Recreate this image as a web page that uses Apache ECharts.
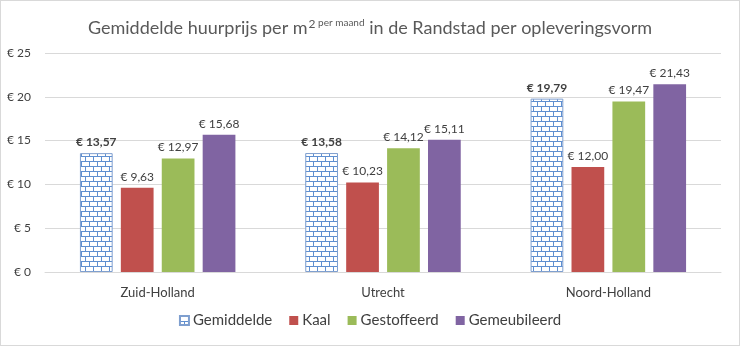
<!DOCTYPE html>
<html>
<head>
<meta charset="utf-8">
<script src="https://cdn.jsdelivr.net/npm/echarts@6/dist/echarts.min.js"></script>
<style>
  html, body { margin: 0; padding: 0; background: #fff; }
  #chart { width: 738px; height: 344px; border: 1px solid #d9d9d9; }
</style>
</head>
<body>
<div id="chart"></div>
<script>
// Regions and average rent per m² per month (euro) by delivery type
const regions = ['Zuid-Holland', 'Utrecht', 'Noord-Holland'];
const seriesNames = ['Gemiddelde', 'Kaal', 'Gestoffeerd', 'Gemeubileerd'];
const gemiddelde = [13.57, 13.58, 19.79];
const kaal = [9.63, 10.23, 12.00];
const gestoffeerd = [12.97, 14.12, 19.47];
const gemeubileerd = [15.68, 15.11, 21.43];
const yTicks = [0, 5, 10, 15, 20, 25];

const FONT = 'Lato, "Open Sans", sans-serif';
const TEXT = '#404040';

// Brick fill for the "Gemiddelde" bars
function brickTile() {
  const c = document.createElement('canvas');
  c.width = 8; c.height = 10;
  const g = c.getContext('2d');
  g.fillStyle = '#ffffff';
  g.fillRect(0, 0, 8, 10);
  g.fillStyle = '#5f8fd0';
  g.fillRect(0, 0, 8, 1);
  g.fillRect(0, 5, 8, 1);
  g.fillRect(0, 0, 1, 5);
  g.fillRect(4, 5, 1, 5);
  return c;
}
const brick = { image: brickTile(), repeat: 'repeat' };

const euro = v => '€ ' + v.toFixed(2).replace('.', ',');

function barSeries(name, data, color, bold, border) {
  return {
    name: name,
    type: 'bar',
    data: data,
    barGap: '25%',
    barCategoryGap: '31%',
    itemStyle: {
      color: color,
      borderColor: border,
      borderWidth: border ? 1 : 0
    },
    label: {
      show: true,
      position: 'top',
      distance: 5,
      formatter: p => euro(p.value),
      color: TEXT,
      fontFamily: FONT,
      fontSize: 12,
      fontWeight: bold ? 'bold' : 'normal'
    }
  };
}

const chart = echarts.init(document.getElementById('chart'));
chart.setOption({
  animation: false,
  title: {
    text: '{m|Gemiddelde huurprijs per m}{s|2}{p| per maand}{m| in de Randstad per opleveringsvorm}',
    left: 'center',
    top: 12,
    textStyle: {
      fontWeight: 'normal',
      rich: {
        m: { fontFamily: FONT, fontSize: 18, fontWeight: 'normal', color: '#595959' },
        s: { fontFamily: FONT, fontSize: 12, fontWeight: 'normal', color: '#595959', verticalAlign: 'top', padding: [0, 0, 8, 1] },
        p: { fontFamily: FONT, fontSize: 10, fontWeight: 'normal', color: '#595959', verticalAlign: 'top', padding: [0, 0, 10, 0] }
      }
    }
  },
  legend: {
    bottom: 12,
    left: 'center',
    itemWidth: 9,
    itemHeight: 9,
    itemGap: 17,
    icon: 'rect',
    textStyle: { fontFamily: FONT, fontSize: 15, color: TEXT, padding: [0, 0, 0, -1] },
    data: seriesNames
  },
  grid: { left: 44, right: 18, top: 52, bottom: 73 },
  xAxis: {
    type: 'category',
    data: regions,
    axisLine: { lineStyle: { color: '#d9d9d9' } },
    axisTick: { show: false },
    axisLabel: { fontFamily: FONT, fontSize: 13, color: TEXT, margin: 14 }
  },
  yAxis: {
    type: 'value',
    min: yTicks[0],
    max: yTicks[yTicks.length - 1],
    interval: yTicks[1] - yTicks[0],
    axisLine: { show: false },
    axisTick: { show: false },
    splitLine: { lineStyle: { color: '#d9d9d9' } },
    axisLabel: {
      fontFamily: FONT, fontSize: 12, color: TEXT, margin: 14,
      formatter: v => '€ ' + v
    }
  },
  series: [
    barSeries(seriesNames[0], gemiddelde, brick, true, '#7f9fcf'),
    barSeries(seriesNames[1], kaal, '#c0504d'),
    barSeries(seriesNames[2], gestoffeerd, '#9bbb59'),
    barSeries(seriesNames[3], gemeubileerd, '#8064a2')
  ]
});
</script>
</body>
</html>
